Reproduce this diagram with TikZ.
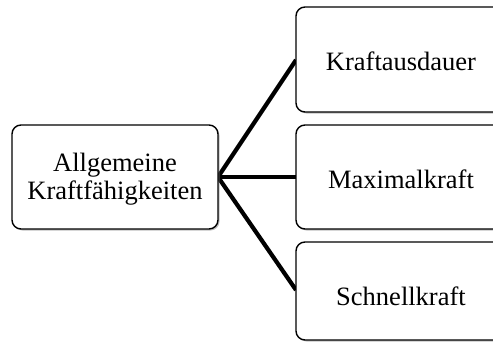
\documentclass[tikz,border=0pt]{standalone}
\usepackage{fontspec}
\setmainfont{Liberation Serif}
\usetikzlibrary{shadows}
\begin{document}
\begin{tikzpicture}[x=1pt,y=-1pt,
  box/.style={draw=black,line width=1.4pt,rounded corners=9pt,fill=white,
    drop shadow={shadow xshift=1.5pt,shadow yshift=-1.5pt,opacity=0.5}},
  lbl/.style={font=\fontsize{26.5}{25}\selectfont,align=center,inner sep=0pt},
  conn/.style={line width=4.2pt}]
\useasboundingbox (0,0) rectangle (493,343);
\begin{scope}
\clip (0,0) rectangle (493,343);
\coordinate (hub) at (218,177);
\coordinate (t1) at (296,60);
\coordinate (t2) at (296,177);
\coordinate (t3) at (296,290);
\draw[conn] (t1) -- (hub) -- (t3);
\draw[conn] (hub) -- (t2);
\draw[box] (12,125) rectangle (218,229);
\draw[box] (296,7) rectangle (506,112);
\draw[box] (296,125) rectangle (506,229);
\draw[box] (296,242) rectangle (506,340);
\end{scope}
\node[lbl,anchor=base] (a1) at (115,171) {Allgemeine};
\node[lbl,anchor=base] (a2) at (115,199) {Kraftfähigkeiten};
\node[lbl,anchor=base] (b) at (401,70) {Kraftausdauer};
\node[lbl,anchor=base] (c) at (401,188) {Maximalkraft};
\node[lbl,anchor=base] (d) at (401,305) {Schnellkraft};
\end{tikzpicture}
\end{document}
